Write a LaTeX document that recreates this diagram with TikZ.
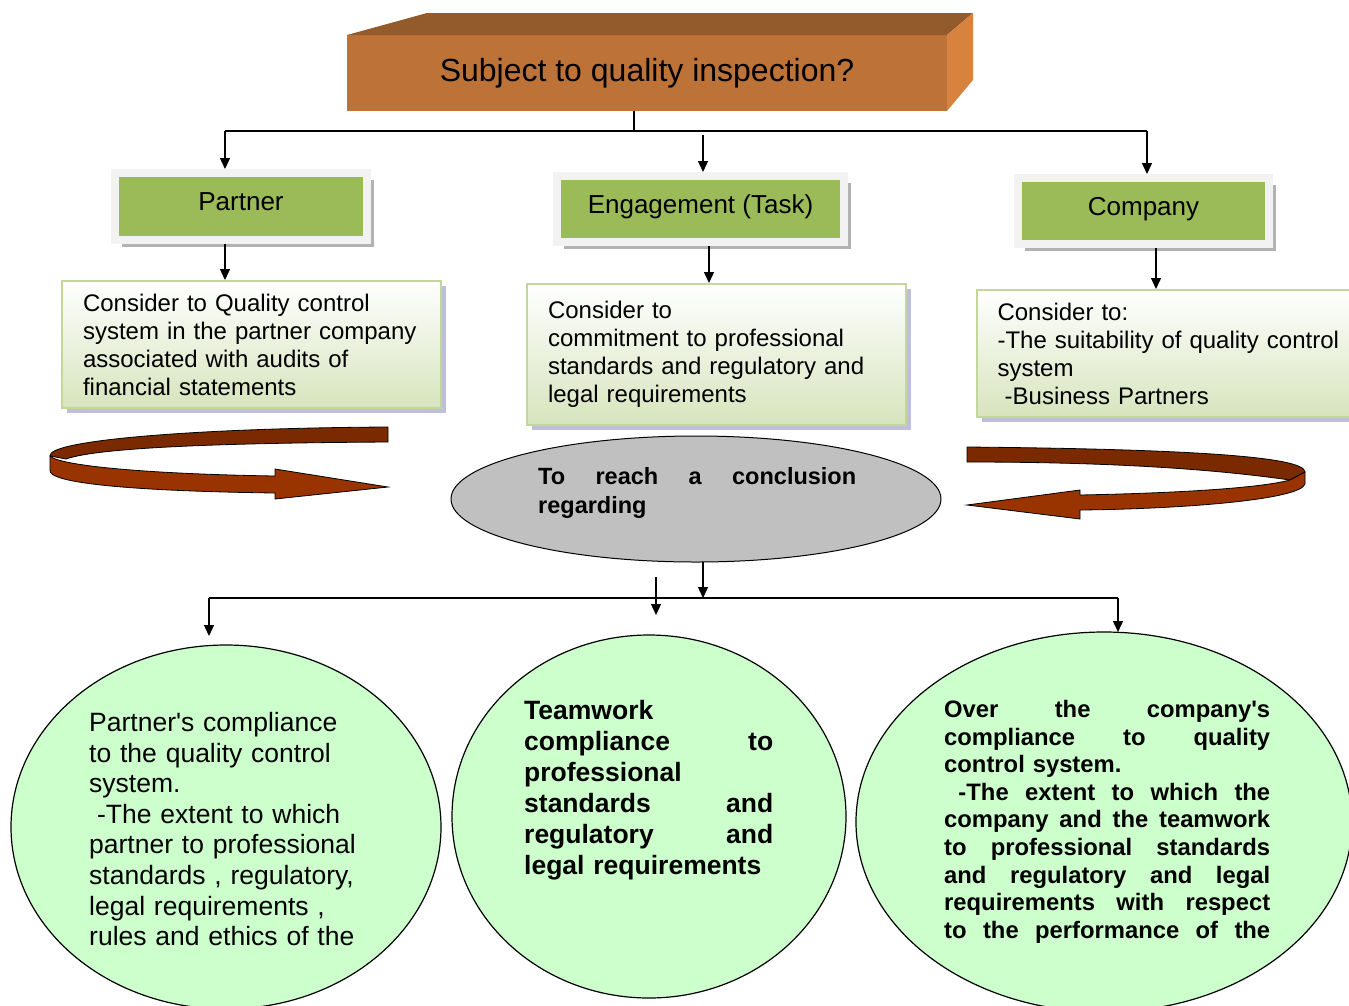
\documentclass[tikz,border=0pt]{standalone}
\usepackage{fontspec}
\setmainfont{Liberation Sans}
\usetikzlibrary{arrows.meta,shapes.geometric,shadows}
\definecolor{boxfront}{RGB}{189,115,55}
\definecolor{boxtop}{RGB}{147,90,44}
\definecolor{boxside}{RGB}{216,130,64}
\definecolor{headgreen}{RGB}{155,187,89}
\definecolor{headframe}{RGB}{242,242,242}
\definecolor{paleolive}{RGB}{215,228,189}
\definecolor{oliveedge}{RGB}{195,214,155}
\definecolor{bandback}{RGB}{123,42,0}
\definecolor{bandfront}{RGB}{153,51,0}
\definecolor{mint}{RGB}{204,255,204}
\definecolor{conegray}{RGB}{192,192,192}
\newcommand{\spreadline}[2]{\makebox[#1][l]{#2}}
\tikzset{
  wire/.style={line width=1.3pt},
  arr/.style={wire, -{Triangle[length=11pt,width=10pt]}},
  frontface/.style={rectangle, fill=boxfront, outer sep=0pt, minimum width=600pt, minimum height=76pt, font=\fontsize{32}{38}\selectfont},
  headbox/.style={rectangle, fill=headgreen, draw=headframe, line width=8pt, minimum width=252pt, minimum height=67pt,
    text height=17pt, text depth=9pt, font=\fontsize{26}{30}\selectfont,
    drop shadow={shadow xshift=7pt, shadow yshift=-7pt, fill=black!30, opacity=1}},
  notebox/.style={rectangle, top color=white, bottom color=paleolive, draw=oliveedge, line width=2pt,
    inner xsep=21pt, text width=337pt, align=left, font=\fontsize{24}{28}\selectfont,
    drop shadow={shadow xshift=5pt, shadow yshift=-5pt, fill=black!55!blue!25, opacity=1}},
  oval/.style={ellipse, draw, line width=1.2pt, fill=mint, inner sep=0pt, outer sep=0pt},
  ovaltext/.style={anchor=north west, inner sep=0pt, align=left},
  band/.style={draw=black, line width=0.8pt}
}
\begin{document}
\begin{tikzpicture}[x=1pt, y=-1pt]
\clip (0,0) rectangle (1349,1005);
% title block
\node (title)[frontface] at (647,73) {Subject to quality inspection?};
\fill[boxtop] (title.north west) -- (427,13) -- (973,13) -- (title.north east) -- cycle;
\fill[boxside] (title.north east) -- (973,13) -- (973,80) -- (title.south east) -- cycle;

% three heads
\node (partner)[headbox] at (241,206.5) {Partner};
\node (engage)[headbox, minimum width=287pt, minimum height=66pt] at (700.5,209) {Engagement (Task)};
\node (company)[headbox, minimum width=251pt, minimum height=66pt] at (1143.5,211) {Company};

% notes
\node (partnote)[notebox, minimum height=127pt] at (251.5,344.5) {Consider to Quality control\\ system in the partner company\\ associated with audits of\\ financial statements};
\node (engnote)[notebox, minimum height=141pt] at (716.5,354.5) {Consider to\\ commitment to professional\\ standards and regulatory and\\ legal requirements};
\node (compnote)[notebox, minimum height=127pt, text width=352pt] at (1173.5,353.5) {Consider to:\\ -The suitability of quality control\\ system\\ \hspace*{0.3em}-Business Partners};

% curved arrows
\fill[bandback, band] (388,427) -- (388,442) .. controls (230,443) and (100,447) .. (66,459) -- (50,456) .. controls (47,440) and (200,428) .. (388,427) -- cycle;
\fill[bandfront, band] (50,456) .. controls (60,466) and (150,474) .. (275,476) -- (275,469) -- (388,487) -- (275,499) -- (275,493) .. controls (130,491) and (47,483) .. (50,470) -- cycle;
\fill[bandback, band] (967,447) .. controls (1180,449) and (1305,456) .. (1305,472) -- (1290,480) .. controls (1220,470) and (1120,462) .. (967,462) -- cycle;
\fill[bandfront, band] (1305,472) -- (1305,484) .. controls (1300,500) and (1180,509) .. (1080,510) -- (1080,519) -- (967,505) -- (1080,490) -- (1080,495) .. controls (1180,493) and (1260,488) .. (1290,480) -- cycle;

% conclusion
\node (conclusion)[ellipse, draw, line width=1pt, fill=conegray, inner sep=0pt, outer sep=0pt, minimum width=490pt, minimum height=126pt] at (696,499) {};
\node (conctext)[ovaltext, text width=318pt, font=\bfseries\fontsize{23.5}{29}\selectfont] at (538,467) {\spreadline{318pt}{To\hfill reach\hfill a\hfill conclusion}\\ regarding};

% results
\node (partoval)[oval, minimum width=430pt, minimum height=364pt] at (226,827) {};
\node (teamoval)[oval, minimum width=394pt, minimum height=363pt] at (649,816.5) {};
\node (compoval)[oval, minimum width=496pt, minimum height=380pt] at (1104,822) {};
\node (parttext)[ovaltext, text width=280pt, font=\fontsize{26.5}{30.6}\selectfont] at (89,712) {Partner\textquotesingle s compliance\\ to the quality control\\ system.\\ \hspace*{0.3em}-The extent to which\\ partner to professional\\ standards , regulatory,\\ legal requirements ,\\ rules and ethics of the};
\node (teamtext)[ovaltext, text width=249pt, font=\bfseries\fontsize{26.5}{31}\selectfont] at (524,700) {Teamwork\\ \spreadline{249pt}{compliance\hfill to}\\ professional\\ \spreadline{249pt}{standards\hfill and}\\ \spreadline{249pt}{regulatory\hfill and}\\ legal requirements};
\node (comptext)[ovaltext, text width=326pt, font=\bfseries\fontsize{23.8}{27.6}\selectfont] at (944,700) {\spreadline{326pt}{Over\hfill the\hfill company\textquotesingle s}\\ \spreadline{326pt}{compliance\hfill to\hfill quality}\\ control system.\\ \spreadline{326pt}{\hspace*{0.6em}-The\hfill extent\hfill to\hfill which\hfill the}\\ \spreadline{326pt}{company\hfill and\hfill the\hfill teamwork}\\ \spreadline{326pt}{to\hfill professional\hfill standards}\\ \spreadline{326pt}{and\hfill regulatory\hfill and\hfill legal}\\ \spreadline{326pt}{requirements\hfill with\hfill respect}\\ \spreadline{326pt}{to\hfill the\hfill performance\hfill of\hfill the}};

% connectors top
\coordinate (topsplit) at (634,131);
\coordinate (splitl) at (225,131);
\coordinate (splitr) at (1147,131);
\coordinate (splitm) at (703,135);
\draw[wire] (title.south -| topsplit) -- (topsplit);
\draw[wire] (splitl) -- (splitr);
\draw[arr] (splitl) -- (splitl |- partner.north);
\draw[arr] (splitm) -- (splitm |- engage.north);
\draw[arr] (splitr) -- (splitr |- company.north);
\draw[arr] (partner.south -| splitl) -- (partnote.north -| splitl);
\draw[arr] ([xshift=8.5pt]engage.south) -- ([xshift=8.5pt]engage.south |- engnote.north);
\draw[arr] ([xshift=12.5pt]company.south) -- ([xshift=12.5pt]company.south |- compnote.north);

% connectors bottom
\coordinate (hub) at (703,598);
\coordinate (hubl) at (209,598);
\coordinate (hubr) at (1118,598);
\coordinate (stray) at (656,577);
\coordinate (strayend) at (656,615);
\draw[arr] (conclusion.south -| hub) -- (hub);
\draw[wire] (hubl) -- (hubr);
\draw[arr, shorten >=9pt] (hubl) -- (hubl |- partoval.north);
\draw[arr] (stray) -- (strayend);
\draw[arr] (hubr) -- (hubr |- compoval.north);
\end{tikzpicture}
\end{document}
